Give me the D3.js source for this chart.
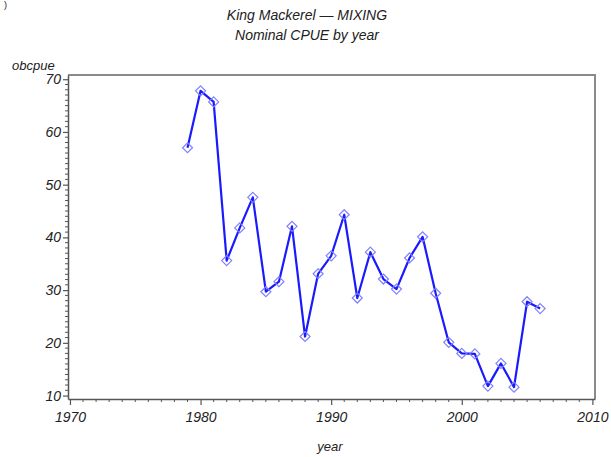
<!DOCTYPE html>
<html>
<head>
<meta charset="utf-8">
<script src="https://cdn.jsdelivr.net/npm/d3@7"></script>
<style>
  body { margin: 0; background: #fff; }
  svg { display: block; }
  text { font-family: "Liberation Sans", Arial, sans-serif; font-style: italic; fill: #222; }
</style>
</head>
<body>
<script>
// King Mackerel (MIXING) nominal CPUE by year
const years = [1979, 1980, 1981, 1982, 1983, 1984, 1985, 1986, 1987, 1988, 1989, 1990,
               1991, 1992, 1993, 1994, 1995, 1996, 1997, 1998, 1999, 2000, 2001, 2002,
               2003, 2004, 2005, 2006];
const obcpue = [57.0, 67.8, 65.7, 35.6, 41.8, 47.6, 29.7, 31.6, 42.1, 21.2, 33.1, 36.5,
                44.3, 28.5, 37.2, 32.1, 30.2, 36.1, 40.1, 29.4, 20.1, 18.0, 17.9, 11.8,
                16.1, 11.6, 27.8, 26.5];
const xTicks = [1970, 1980, 1990, 2000, 2010];
const yTicks = [10, 20, 30, 40, 50, 60, 70];
const titleLines = ["King Mackerel \u2014 MIXING", "Nominal CPUE by year"];

const W = 611, H = 457;
const svg = d3.select("body").append("svg").attr("width", W).attr("height", H);

const plotL = 68, plotR = 595, plotT = 75, plotB = 399;
const x = d3.scaleLinear().domain([1969.85, 2010.2]).range([plotL, plotR]);
const y = d3.scaleLinear().domain([9.35, 70.8]).range([plotB, plotT]);

// Frame (top and right)
svg.append("path")
  .attr("d", `M${plotL},${plotT}H${plotR}V${plotB}`)
  .attr("fill", "none").attr("stroke", "#8a8a8a").attr("stroke-width", 2);

// Minor ticks
const minorX = d3.range(1970, 2011).filter(v => v % 10 !== 0);
const minorY = d3.range(10, 71).filter(v => v % 10 !== 0);
svg.append("g").selectAll("line").data(minorX).join("line")
  .attr("x1", d => x(d)).attr("x2", d => x(d))
  .attr("y1", plotB).attr("y2", plotB + 3)
  .attr("stroke", "#555").attr("stroke-width", 1);
svg.append("g").selectAll("line").data(minorY).join("line")
  .attr("y1", d => y(d)).attr("y2", d => y(d))
  .attr("x1", plotL).attr("x2", plotL - 3)
  .attr("stroke", "#555").attr("stroke-width", 1);

// Axes
const xAxis = svg.append("g").attr("transform", `translate(0,${plotB})`)
  .call(d3.axisBottom(x).tickValues(xTicks).tickFormat(d3.format("d")).tickSize(6).tickPadding(7).tickSizeOuter(0));
const yAxis = svg.append("g").attr("transform", `translate(${plotL},0)`)
  .call(d3.axisLeft(y).tickValues(yTicks).tickSize(5).tickPadding(2).tickSizeOuter(0));
[xAxis, yAxis].forEach(g => {
  g.select(".domain").attr("stroke", "#555").attr("stroke-width", 1.5);
  g.selectAll(".tick line").attr("stroke", "#555").attr("stroke-width", 1.2);
  g.selectAll(".tick text")
    .style("font-family", "'Liberation Sans', Arial, sans-serif")
    .style("font-style", "italic").style("font-size", "14px").attr("fill", "#333");
});

// Data line
const pts = years.map((yr, i) => [yr, obcpue[i]]);
svg.append("path").datum(pts)
  .attr("fill", "none").attr("stroke", "#1a1aff").attr("stroke-width", 2.2)
  .attr("stroke-linejoin", "round")
  .attr("d", d3.line().x(d => x(d[0])).y(d => y(d[1])));

// Diamond markers
svg.append("g").selectAll("path").data(pts).join("path")
  .attr("transform", d => `translate(${x(d[0])},${y(d[1])})`)
  .attr("d", "M0,-5L5,0L0,5L-5,0Z")
  .attr("fill", "none").attr("stroke", "#8080ff").attr("stroke-width", 1.2);

// Titles
svg.selectAll("text.title").data(titleLines).join("text")
  .attr("class", "title")
  .attr("x", 307).attr("y", (d, i) => 20 + i * 20)
  .attr("text-anchor", "middle").style("font-size", "14px")
  .text(d => d);

// Axis labels
svg.append("text").attr("x", 12).attr("y", 70).style("font-size", "13px").text("obcpue");
svg.append("text").attr("x", 330).attr("y", 451).attr("text-anchor", "middle")
  .style("font-size", "13px").text("year");

// Small mark at the top-left corner
svg.append("text").attr("x", 4).attr("y", 8).style("font-size", "9px").style("font-style", "normal").text(")");
</script>
</body>
</html>
